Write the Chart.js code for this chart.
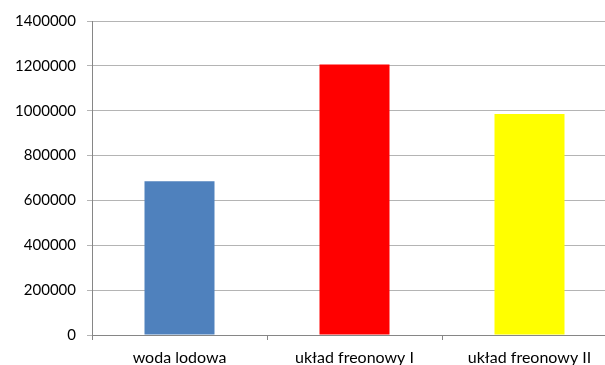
<!DOCTYPE html>
<html>
<head>
<meta charset="utf-8">
<script src="https://cdn.jsdelivr.net/npm/chart.js@4/dist/chart.umd.min.js"></script>
<style>
  html, body { margin: 0; padding: 0; background: #fff; overflow: hidden; }
  #wrap { position: relative; width: 617px; height: 365px; }
</style>
</head>
<body>
<div id="wrap"><canvas id="c"></canvas></div>
<script>
// Cooling system cost comparison
const categories = ['woda lodowa', 'układ freonowy I', 'układ freonowy II'];
const values = [686000, 1206000, 985000];
const barColors = ['#4f81bd', '#ff0000', '#ffff00'];
const yTicks = [0, 200000, 400000, 600000, 800000, 1000000, 1200000, 1400000];

const yFont = { family: 'Lato', size: 15 };
const xFont = { family: 'Lato', size: 16 };

new Chart(document.getElementById('c'), {
  type: 'bar',
  data: {
    labels: categories,
    datasets: [{
      data: values,
      backgroundColor: barColors,
      borderWidth: 0,
      categoryPercentage: 1,
      barPercentage: 0.4
    }]
  },
  options: {
    responsive: true,
    maintainAspectRatio: false,
    animation: false,
    events: [],
    layout: { padding: { top: 21, right: 0, left: 0, bottom: 0 } },
    plugins: { legend: { display: false }, tooltip: { enabled: false } },
    scales: {
      x: {
        grid: {
          drawOnChartArea: false,
          drawTicks: true,
          tickLength: 5,
          color: '#868686',
          offset: true
        },
        border: { color: '#868686', width: 1 },
        ticks: { color: '#000', font: xFont, padding: 8, maxRotation: 0 },
        afterFit: (s) => { s.height = 30; }
      },
      y: {
        min: 0,
        max: 1400000,
        afterBuildTicks: (s) => { s.ticks = yTicks.map(v => ({ value: v })); },
        grid: {
          color: '#b4b4b4',
          tickLength: 5,
          drawTicks: true
        },
        border: { color: '#868686', width: 1 },
        ticks: {
          color: '#000',
          font: yFont,
          padding: 11,
          callback: (v) => String(v)
        },
        afterFit: (s) => { s.width = 92; }
      }
    }
  }
});
</script>
</body>
</html>
